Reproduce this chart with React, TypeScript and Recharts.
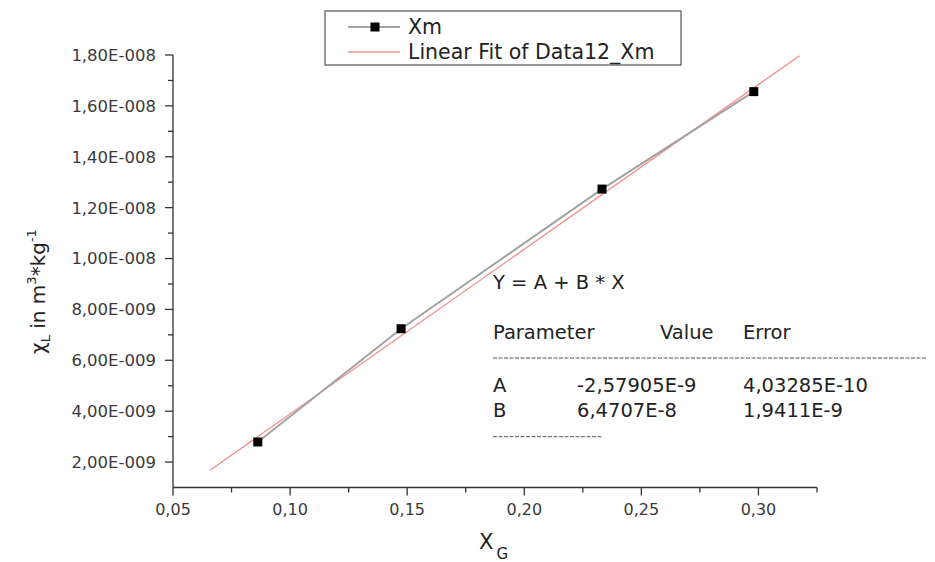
import React from "react";
import { ComposedChart, Scatter, XAxis, YAxis } from "recharts";

// ---- data ----
const xmX = [0.0862, 0.1474, 0.2332, 0.298];
const xmY = [2.79e-9, 7.24e-9, 12.73e-9, 16.56e-9];

const fitX = [0.0658, 0.3175];
const fitY = [1.68e-9, 1.797e-8];

const xMajorTicks = [0.05, 0.1, 0.15, 0.2, 0.25, 0.3];
const xTickLabels = ["0,05", "0,10", "0,15", "0,20", "0,25", "0,30"];
const xMinorTicks = [0.075, 0.125, 0.175, 0.225, 0.275, 0.325];

const yMajorTicks = [2e-9, 4e-9, 6e-9, 8e-9, 1e-8, 1.2e-8, 1.4e-8, 1.6e-8, 1.8e-8];
const yTickLabels = [
  "2,00E-009", "4,00E-009", "6,00E-009", "8,00E-009",
  "1,00E-008", "1,20E-008", "1,40E-008", "1,60E-008", "1,80E-008",
];
const yMinorTicks = [3e-9, 5e-9, 7e-9, 9e-9, 1.1e-8, 1.3e-8, 1.5e-8, 1.7e-8];

const xDomain = [0.05, 0.325];
const yDomain = [1e-9, 1.8e-8];

const fitParams = [
  { name: "A", value: "-2,57905E-9", error: "4,03285E-10" },
  { name: "B", value: "6,4707E-8", error: "1,9411E-9" },
];

const xmData = xmX.map((x, i) => ({ x, y: xmY[i] }));
const fitData = fitX.map((x, i) => ({ x, y: fitY[i] }));

const FONT = "DejaVu Sans";
const AXIS = "#333";
const TXT = "#3a3a3a";

const findIdx = (arr: number[], v: number, tol: number) =>
  arr.findIndex((a) => Math.abs(a - v) < tol);

const XTick = (props: any) => {
  const { x, y, payload } = props;
  const i = findIdx(xMajorTicks, payload.value, 1e-6);
  const major = i >= 0;
  return (
    <g>
      <line x1={x} y1={y} x2={x} y2={y + (major ? 8 : 5)} stroke={AXIS} strokeWidth={1.3} />
      {major && (
        <text x={x} y={y + 27.5} textAnchor="middle" fontFamily={FONT} fontSize={16} fill={TXT}>
          {xTickLabels[i]}
        </text>
      )}
    </g>
  );
};

const YTick = (props: any) => {
  const { x, y, payload } = props;
  const i = findIdx(yMajorTicks, payload.value, 1e-12);
  const major = i >= 0;
  return (
    <g>
      <line x1={x} y1={y} x2={x - (major ? 8 : 5)} y2={y} stroke={AXIS} strokeWidth={1.3} />
      {major && (
        <text x={x - 17} y={y} dy="0.36em" textAnchor="end" fontFamily={FONT} fontSize={16.5} fill={TXT}>
          {yTickLabels[i]}
        </text>
      )}
    </g>
  );
};

const Square = (props: any) => {
  const { cx, cy } = props;
  if (cx == null || cy == null) return <g />;
  return <rect x={cx - 4.5} y={cy - 4.5} width={9} height={9} fill="#000" />;
};

const NoShape = () => <g />;

const W = 920;
const H = 554;

export default function App() {
  return (
    <div style={{ position: "relative", width: W, height: H, background: "#fff" }}>
      <ComposedChart
        width={W}
        height={H}
        margin={{ top: 47, right: 111, bottom: 44.5, left: 65 }}
      >
        <XAxis
          type="number"
          dataKey="x"
          domain={xDomain}
          allowDataOverflow
          ticks={[...xMajorTicks, ...xMinorTicks].sort((a, b) => a - b)}
          interval={0}
          tick={<XTick />}
          tickLine={false}
          tickSize={0}
          tickMargin={0}
          height={30}
          axisLine={{ stroke: AXIS, strokeWidth: 1.3 }}
        />
        <YAxis
          type="number"
          dataKey="y"
          domain={yDomain}
          allowDataOverflow
          ticks={[...yMajorTicks, ...yMinorTicks].sort((a, b) => a - b)}
          interval={0}
          tick={<YTick />}
          tickLine={false}
          tickSize={0}
          tickMargin={0}
          width={100}
          axisLine={{ stroke: AXIS, strokeWidth: 1.3 }}
        />
        <Scatter
          name="Linear Fit of Data12_Xm"
          data={fitData}
          line={{ stroke: "#f59090", strokeWidth: 1.4 }}
          shape={<NoShape />}
          isAnimationActive={false}
        />
        <Scatter
          name="Xm"
          data={xmData}
          line={{ stroke: "#a3a3a3", strokeWidth: 2 }}
          shape={<Square />}
          isAnimationActive={false}
        />
      </ComposedChart>
      <svg
        width={W}
        height={H}
        style={{ position: "absolute", left: 0, top: 0, pointerEvents: "none" }}
      >
        {/* legend */}
        <rect x={317} y={3} width={356} height={54} fill="#fff" stroke="#555" strokeWidth={1.2} />
        <line x1={340} y1={19} x2={392} y2={19} stroke="#a3a3a3" strokeWidth={2} />
        <rect x={362.5} y={14.5} width={9} height={9} fill="#000" />
        <text x={400} y={19} dy="0.36em" fontFamily={FONT} fontSize={20.5} fill="#222">
          Xm
        </text>
        <line x1={340} y1={44} x2={392} y2={44} stroke="#f59090" strokeWidth={1.4} />
        <text x={400} y={44} dy="0.36em" fontFamily={FONT} fontSize={20.5} fill="#222">
          Linear Fit of Data12_Xm
        </text>

        {/* fit results */}
        <g fontFamily={FONT} fontSize={19.5} fill="#222">
          <text x={485} y={273.7} dy="0.36em">Y = A + B * X</text>
          <text x={485} y={323.7} dy="0.36em">Parameter</text>
          <text x={652} y={323.7} dy="0.36em">Value</text>
          <text x={735} y={323.7} dy="0.36em">Error</text>
          {fitParams.map((p, i) => (
            <g key={p.name}>
              <text x={485} y={377 + i * 25} dy="0.36em">{p.name}</text>
              <text x={569} y={377 + i * 25} dy="0.36em">{p.value}</text>
              <text x={735} y={377 + i * 25} dy="0.36em">{p.error}</text>
            </g>
          ))}
        </g>
        <line x1={485} y1={350} x2={927} y2={350} stroke="#555" strokeWidth={1} strokeDasharray="4 1.5" />
        <line x1={485} y1={428.7} x2={595} y2={428.7} stroke="#555" strokeWidth={1} strokeDasharray="4 1.5" />

        {/* axis titles */}
        <text
          x={37}
          y={283.5}
          transform="rotate(-90 37 283.5)"
          textAnchor="middle"
          fontFamily={FONT}
          fontSize={20}
          fill="#222"
        >
          <tspan>χ</tspan>
          <tspan fontSize={13} dy={5}>L</tspan>
          <tspan dy={-5}> in m</tspan>
          <tspan fontSize={13} dy={-9}>3</tspan>
          <tspan dy={9}>*kg</tspan>
          <tspan fontSize={13} dy={-9}>-1</tspan>
        </text>
        <text x={471} y={541} fontFamily={FONT} fontSize={21} fill="#222">
          X
          <tspan fontSize={15} dx={3} dy={10}>G</tspan>
        </text>
      </svg>
    </div>
  );
}
